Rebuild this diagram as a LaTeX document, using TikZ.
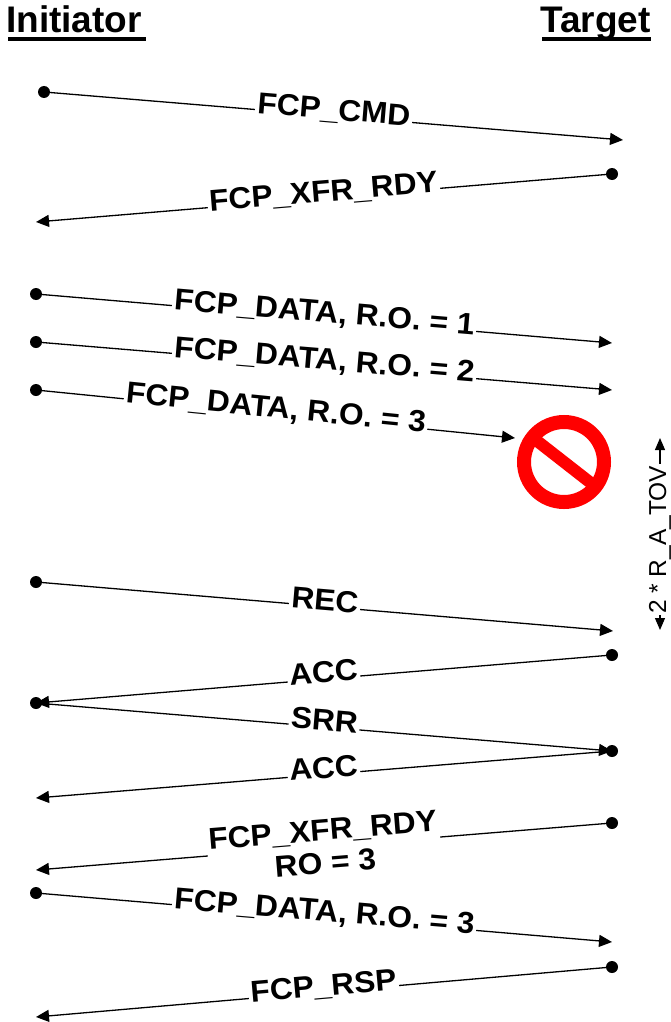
\documentclass[tikz,border=0pt]{standalone}
\usepackage{fontspec}
\setmainfont{Liberation Sans}
\newfontfamily\labfont[FakeStretch=1.05]{Liberation Sans}
\usetikzlibrary{arrows.meta}
\begin{document}
\begin{tikzpicture}[x=1pt,y=-1pt,
  msg/.style={line width=1.3pt, -{Triangle[length=13pt,width=12pt]}},
  dot/.style={circle, fill=black, inner sep=0pt, minimum size=12pt},
  lab/.style={sloped, fill=white, inner sep=2pt, text height=0.74em, text depth=0pt,
    font=\labfont\bfseries\fontsize{30.2}{33}\selectfont},
  lab2/.style={sloped, fill=white, inner sep=2pt, align=center,
    font=\labfont\bfseries\fontsize{30.2}{33}\selectfont},
  hdr/.style={inner sep=0pt, font=\bfseries\fontsize{37}{40}\selectfont},
  uline/.style={line width=4pt},
  tov/.style={line width=1.2pt, {Triangle[length=12pt,width=10pt]}-{Triangle[length=12pt,width=10pt]}},
]
\useasboundingbox (0,0) rectangle (671,1022);

% headers
\node[hdr, anchor=base west] (init) at (6,33) {Initiator};
\node[hdr, anchor=base east] (targ) at (651,33) {Target};
\draw[uline] ([xshift=2pt,yshift=-6pt]init.base west) -- ([xshift=4pt,yshift=-6pt]init.base east);
\draw[uline] ([xshift=2pt,yshift=-6pt]targ.base west) -- ([xshift=0pt,yshift=-6pt]targ.base east);

% 1 FCP_CMD
\node[dot] (a1) at (44,92) {};
\coordinate (b1) at (623,140);
\draw[msg] (a1.center) -- node[lab] {FCP\_CMD} (b1);

% 2 FCP_XFR_RDY
\node[dot] (a2) at (612,174) {};
\coordinate (b2) at (36,222);
\draw[msg] (a2.center) -- node[lab] {FCP\_XFR\_RDY} (b2);

% 3-5 FCP_DATA
\node[dot] (a3) at (36,294) {};
\coordinate (b3) at (612,343);
\draw[msg] (a3.center) -- node[lab] {FCP\_DATA, R.O. = 1} (b3);

\node[dot] (a4) at (36,342) {};
\coordinate (b4) at (612,390);
\draw[msg] (a4.center) -- node[lab] {FCP\_DATA, R.O. = 2} (b4);

\node[dot] (a5) at (36,390) {};
\coordinate (b5) at (515,438);
\draw[msg] (a5.center) -- node[lab] {FCP\_DATA, R.O. = 3} (b5);

% no sign
\node[circle, draw=red, line width=14pt, minimum size=80pt, inner sep=0pt, outer sep=0pt] (stop) at (564,462) {};
\draw[red, line width=12pt] (stop.142) -- (stop.-38);

% 2 * R_A_TOV
\coordinate (tt) at (660,438);
\coordinate (tb) at (660,630);
\draw[tov] (tb) -- node[pos=0.47, sloped, fill=white, inner sep=1.5pt, font=\fontsize{24.5}{28}\selectfont] (tovlab) {2 * R\_A\_TOV} (tt);

% 6 REC
\node[dot] (a6) at (36,582) {};
\coordinate (b6) at (613,631);
\draw[msg] (a6.center) -- node[lab] {REC} (b6);

% 7 ACC
\node[dot] (a7) at (612,655) {};
\node[dot] (a8) at (36,703) {};
\draw[msg] (a7.center) -- node[lab] {ACC} (a8.center);

% 8 SRR
\node[dot] (a9) at (612,751) {};
\draw[msg] (a8.center) -- node[lab] {SRR} (a9.center);

% 9 ACC
\coordinate (b9) at (36,798);
\draw[msg] (a9.center) -- node[lab] {ACC} (b9);

% 10 FCP_XFR_RDY RO = 3
\node[dot] (a10) at (612,823) {};
\coordinate (b10) at (36,870);
\draw[msg] (a10.center) -- node[lab2] {FCP\_XFR\_RDY\\RO = 3} (b10);

% 11 FCP_DATA R.O. = 3
\node[dot] (a11) at (36,893) {};
\coordinate (b11) at (612,942);
\draw[msg] (a11.center) -- node[lab] {FCP\_DATA, R.O. = 3} (b11);

% 12 FCP_RSP
\node[dot] (a12) at (612,967) {};
\coordinate (b12) at (36,1017);
\draw[msg] (a12.center) -- node[lab] {FCP\_RSP} (b12);
\end{tikzpicture}
\end{document}
